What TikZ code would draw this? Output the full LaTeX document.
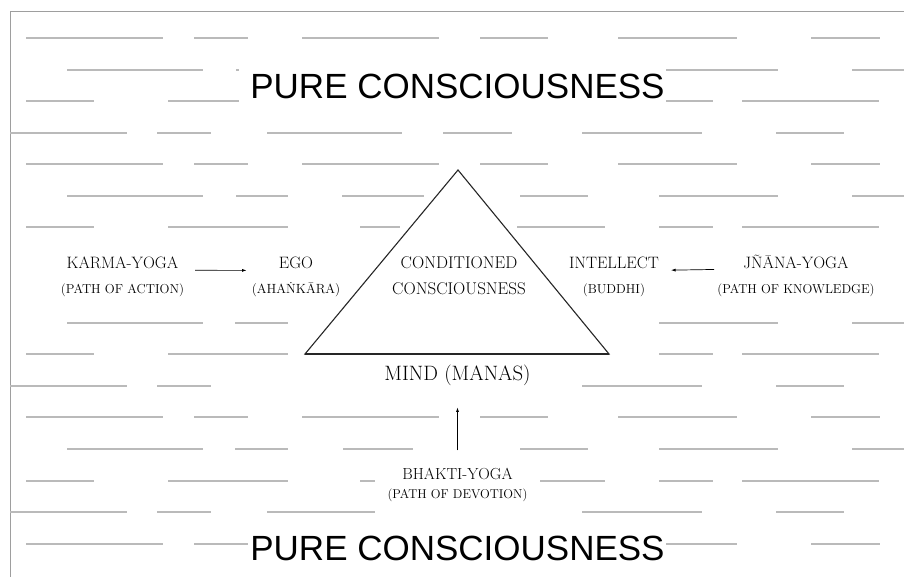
\documentclass[tikz,border=0pt]{standalone}
\usepackage{fontspec}
\newfontfamily\headfont{Liberation Sans}
\usetikzlibrary{arrows.meta}
\tikzset{
  bgdash/.style   = {draw=black!27, line width=1.4pt},
  framelin/.style = {draw=black!38, line width=1pt},
  triline/.style  = {draw=black!85, line width=1.1pt, fill=white},
  headlbl/.style  = {font=\headfont\fontsize{35}{40}\selectfont, inner sep=0pt, anchor=base},
  yogalbl/.style  = {font=\fontsize{16.5}{25}\selectfont, align=center, inner sep=0pt,
                     anchor=base, text=black},
  yogaflow/.style = {-{Latex[length=4.5pt,width=3pt]}, draw=black, line width=0.7pt},
}

\begin{document}
\begin{tikzpicture}[x=1pt,y=-1pt]
  \useasboundingbox (0,0) rectangle (904,577);
  % frame
  \draw[framelin] (10,577) -- (10,12) -- (904,12);

  % background dashes, row by row
  \draw[bgdash] (26,38) -- (163,38)  (194,38) -- (248,38)  (302,38) -- (439,38)
                (480,38) -- (548,38)  (618,38) -- (737,38)  (811,38) -- (880,38);
  \draw[bgdash] (67,70) -- (203,70)  (236,70) -- (239,70)  (666,70) -- (778,70)
                (852,70) -- (904,70);
  \draw[bgdash] (26,101) -- (94,101)  (168,101) -- (239,101)  (666,101) -- (713,101)
                (742,101) -- (879,101);
  \draw[bgdash] (10,133) -- (127,133)  (157,133) -- (211,133)  (267,133) -- (402,133)
                (443,133) -- (512,133)  (582,133) -- (702,133)  (776,133) -- (844,133);
  \draw[bgdash] (26,164) -- (163,164)  (194,164) -- (248,164)  (302,164) -- (439,164)
                (480,164) -- (548,164)  (618,164) -- (737,164)  (811,164) -- (880,164);
  \draw[bgdash] (67,196) -- (203,196)  (236,196) -- (288,196)  (342,196) -- (424,196)
                (520,196) -- (588,196)  (659,196) -- (778,196)  (852,196) -- (904,196);
  \draw[bgdash] (26,227) -- (94,227)  (168,227) -- (288,227)  (360,227) -- (400,227)
                (517,227) -- (605,227)  (659,227) -- (713,227)  (742,227) -- (879,227);
  \draw[bgdash] (67,323) -- (203,323)  (235,323) -- (288,323)  (659,323) -- (778,323)
                (852,323) -- (904,323);
  \draw[bgdash] (26,354) -- (94,354)  (168,354) -- (288,354)  (659,354) -- (713,354)
                (742,354) -- (879,354);
  \draw[bgdash] (10,386) -- (127,386)  (157,386) -- (211,386)  (582,386) -- (702,386)
                (776,386) -- (844,386);
  \draw[bgdash] (26,417) -- (163,417)  (194,417) -- (248,417)  (302,417) -- (439,417)
                (480,417) -- (548,417)  (618,417) -- (737,417)  (811,417) -- (880,417);
  \draw[bgdash] (67,449) -- (203,449)  (235,449) -- (288,449)  (343,449) -- (413,449)
                (520,449) -- (588,449)  (659,449) -- (778,449)  (852,449) -- (904,449);
  \draw[bgdash] (26,481) -- (94,481)  (168,481) -- (288,481)  (360,481) -- (375,481)
                (540,481) -- (605,481)  (659,481) -- (713,481)  (742,481) -- (879,481);
  \draw[bgdash] (10,512) -- (127,512)  (157,512) -- (211,512)  (267,512) -- (375,512)
                (582,512) -- (702,512)  (776,512) -- (844,512);
  \draw[bgdash] (26,544) -- (163,544)  (194,544) -- (248,544)  (666,544) -- (737,544)
                (811,544) -- (880,544);

  % the triangle, base a little heavier
  \draw[triline] (458,170) -- (305,354) -- (609,354) -- cycle;
  \draw[triline, line width=1.7pt] (305,354) -- (609,354);

  \node[headlbl] (purehigh) at (457.5,99)  {PURE CONSCIOUSNESS};
  \node[headlbl] (purelow)  at (457.5,560) {PURE CONSCIOUSNESS};

  % anchor=base sits on the last line
  \node[yogalbl] (karma)  at (122.5,293) {KARMA-YOGA\\\fontsize{13}{25}\selectfont (PATH OF ACTION)};
  \node[yogalbl] (ego)    at (296,293)   {EGO\\\fontsize{13.3}{25}\selectfont (AHAṄKĀRA)};
  \node[yogalbl, font=\fontsize{17}{26}\selectfont] (cond) at (459,294) {CONDITIONED\\CONSCIOUSNESS};
  \node[yogalbl] (intel)  at (614,293)   {INTELLECT\\\fontsize{13}{25}\selectfont (BUDDHI)};
  \node[yogalbl] (jnana)  at (796,293)   {JÑĀNA-YOGA\\\fontsize{12.9}{25}\selectfont (PATH OF KNOWLEDGE)};
  \node[yogalbl, font=\fontsize{20.8}{25}\selectfont] (mind) at (457.5,380) {MIND (MANAS)};
  \node[yogalbl, font=\fontsize{16}{19}\selectfont] (bhakti) at (457.5,498) {BHAKTI-YOGA\\\fontsize{12.8}{19}\selectfont (PATH OF DEVOTION)};

  \draw[yogaflow, shorten <=11pt, shorten >=5pt] ([yshift=6pt]karma.east) -- ([yshift=6pt]ego.west);
  \draw[yogaflow, shorten <=3pt, shorten >=12pt] ([yshift=6pt]jnana.west) -- ([yshift=6pt]intel.east);
  \draw[yogaflow, shorten <=17pt, shorten >=22pt] (bhakti.north) -- (mind.south);
\end{tikzpicture}
\end{document}
